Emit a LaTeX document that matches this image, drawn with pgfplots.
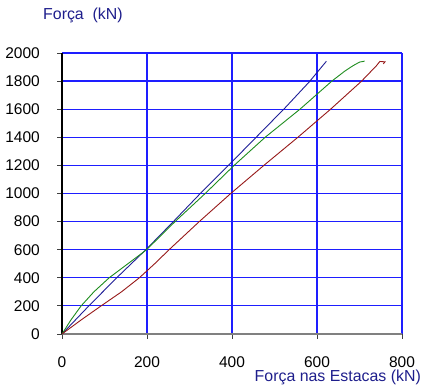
\documentclass[border=0pt]{standalone}
\usepackage{fontspec}
\setmainfont{Liberation Sans}
\usepackage{pgfplots}
\pgfplotsset{compat=1.18}
\definecolor{gridblue}{RGB}{30,30,255}
\definecolor{labelnavy}{RGB}{30,30,140}
\definecolor{cblue}{RGB}{30,30,150}
\definecolor{cgreen}{RGB}{30,140,30}
\definecolor{cred}{RGB}{150,25,25}
\begin{document}
\begin{tikzpicture}[x=1pt,y=1pt]
\begin{axis}[
  at={(62pt,53pt)}, anchor=south west,
  scale only axis, width=340pt, height=281pt,
  xmin=0, xmax=800, ymin=0, ymax=2000,
  xtick={0,200,...,800}, ytick={0,200,...,2000},
  xtick pos=bottom, ytick pos=left,
  axis line style={draw=none},
  clip=false,
  extra x ticks={200,400,600,800},
  extra y ticks={200,400,...,2000},
  extra x tick labels={}, extra y tick labels={},
  extra tick style={grid=major, major tick length=0pt, every tick/.style={draw=none}},
  every axis grid/.style={draw=gridblue, line width=1.2pt},
  tick align=center, major tick length=10pt,
  every tick/.style={draw=black!75, line width=0.8pt},
  /pgf/number format/assume math mode=true,
  /pgf/number format/1000 sep={},
  tick label style={font=\fontsize{15.5}{18}\selectfont, inner sep=0pt},
  yticklabel style={anchor=east, xshift=-17pt},
  xticklabel style={anchor=north, yshift=-17pt},
  xlabel={Força nas Estacas (kN)},
  ylabel={Força\ \ (kN)},
  every axis x label/.style={at={(axis description cs:1.056,-0.1673)}, anchor=base east, inner sep=0pt, font=\fontsize{15.9}{18}\selectfont, text=labelnavy},
  every axis y label/.style={at={(axis description cs:-0.0559,1.119)}, anchor=base west, inner sep=0pt, font=\fontsize{15.9}{18}\selectfont, text=labelnavy},
]
\fill[black] ([xshift=-0.6pt]axis cs:0,0) rectangle ([xshift=0.6pt]axis cs:0,2000);
\fill[black!50] ([yshift=-1.4pt]axis cs:0,0) rectangle ([yshift=1.2pt]axis cs:800,0);
\addplot[cblue, line width=0.9pt] coordinates {
(0,0) (30,95) (60,190) (127,395) (199,605) (262,800) (327,1005) (395,1210) (460,1410) (525,1610) (582,1795) (622,1941)
};
\addplot[cgreen, line width=0.9pt] coordinates {
(0,0) (21,100) (45,200) (75,300) (111,400) (155,500) (199,600) (266,800) (337,1000) (405,1200) (478,1400) (560,1600) (635,1800) (665,1870) (685,1910) (700,1935) (712,1942)
};
\addplot[cred, line width=0.9pt] coordinates {
(0,0) (45,100) (92,200) (140,300) (182,400) (218,500) (252,600) (323,800) (397,1000) (475,1200) (555,1400) (632,1600) (705,1800) (740,1910) (748,1940) (760,1937) (756,1922)
};
\end{axis}
\pgfresetboundingbox
\useasboundingbox (0,0) rectangle (421,387);
\end{tikzpicture}
\end{document}
